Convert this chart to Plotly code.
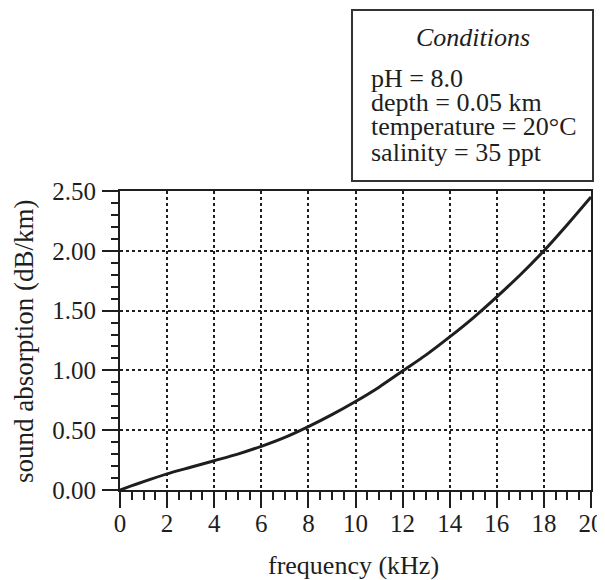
import plotly.graph_objects as go

# Data
frequency_khz = [0, 1, 2, 3, 4, 5, 6, 7, 8, 9, 10, 11, 12, 13, 14, 15, 16, 17, 18, 19, 20]
absorption_db_km = [0.00, 0.07, 0.135, 0.19, 0.245, 0.30, 0.365, 0.44, 0.53, 0.63, 0.74, 0.86,
                    0.995, 1.13, 1.28, 1.44, 1.615, 1.80, 2.00, 2.22, 2.45]

x_ticks = [0, 2, 4, 6, 8, 10, 12, 14, 16, 18, 20]
y_ticks = [0.0, 0.5, 1.0, 1.5, 2.0, 2.5]
y_tick_labels = ["0.00", "0.50", "1.00", "1.50", "2.00", "2.50"]

x_title = "frequency (kHz)"
y_title = "sound absorption (dB/km)"
box_title = "Conditions"
box_lines = ["pH = 8.0", "depth = 0.05 km", "temperature = 20°C", "salinity = 35 ppt"]

FONT = "Liberation Serif"
INK = "#1e1e1e"

# The page body adds an 8px margin, so the figure is sized to fit the window
W, H = 597, 572
ML, MR, MT, MB = 112, 14, 183, 90
PW, PH = W - ML - MR, H - MT - MB


def px_x(p):
    return (p - ML) / PW


def px_y(p):
    return (H - MB - p) / PH


fig = go.Figure()
fig.add_trace(go.Scatter(
    x=frequency_khz, y=absorption_db_km, mode="lines",
    line=dict(color=INK, width=3, shape="spline", smoothing=0.8),
    showlegend=False, hoverinfo="skip",
))

axis_common = dict(
    ticks="outside", ticklen=16, tickwidth=2, tickcolor=INK,
    showline=True, linecolor=INK, linewidth=2, mirror=True,
    showgrid=True, gridcolor=INK, gridwidth=1.5, griddash="dot",
    zeroline=False, automargin=False, ticklabeloverflow="allow",
    tickfont=dict(family=FONT, size=25, color=INK),
)

fig.update_layout(
    width=W, height=H,
    margin=dict(l=ML, r=MR, t=MT, b=MB),
    paper_bgcolor="white", plot_bgcolor="white",
    font=dict(family=FONT, size=25, color=INK),
    xaxis=dict(
        range=[0, 20], tickvals=x_ticks, ticktext=[str(v) for v in x_ticks],
        minor=dict(dtick=0.5, ticks="outside", ticklen=8, tickwidth=2, tickcolor=INK, showgrid=False),
        ticklabelstandoff=-6,
        **axis_common,
    ),
    yaxis=dict(
        range=[0, 2.5], tickvals=y_ticks, ticktext=y_tick_labels,
        minor=dict(dtick=0.1, ticks="outside", ticklen=7, tickwidth=2, tickcolor=INK, showgrid=False),
        ticklabelstandoff=1,
        **axis_common,
    ),
)

# Axis titles
fig.add_annotation(xref="paper", yref="paper", x=px_x(345), y=px_y(557),
                   text=x_title, showarrow=False, xanchor="center", yanchor="middle",
                   font=dict(family=FONT, size=26, color=INK))
fig.add_annotation(xref="paper", yref="paper", x=px_x(16), y=px_y(333),
                   text=y_title, showarrow=False, textangle=-90,
                   xanchor="center", yanchor="middle",
                   font=dict(family=FONT, size=27, color=INK))

# Conditions box
fig.add_shape(type="rect", xref="paper", yref="paper",
              x0=px_x(344), x1=px_x(585), y0=px_y(173), y1=px_y(2),
              line=dict(color="#333", width=2), fillcolor="white")
fig.add_annotation(xref="paper", yref="paper", x=px_x(465), y=px_y(30),
                   text="<i>" + box_title + "</i>", showarrow=False,
                   xanchor="center", yanchor="middle",
                   font=dict(family=FONT, size=26, color=INK))
line_centers = [70, 94, 119, 144]
for txt, cy in zip(box_lines, line_centers):
    fig.add_annotation(xref="paper", yref="paper", x=px_x(361), y=px_y(cy),
                       text=txt, showarrow=False, xanchor="left", yanchor="middle",
                       font=dict(family=FONT, size=26, color=INK))

fig.write_html("out.html")
